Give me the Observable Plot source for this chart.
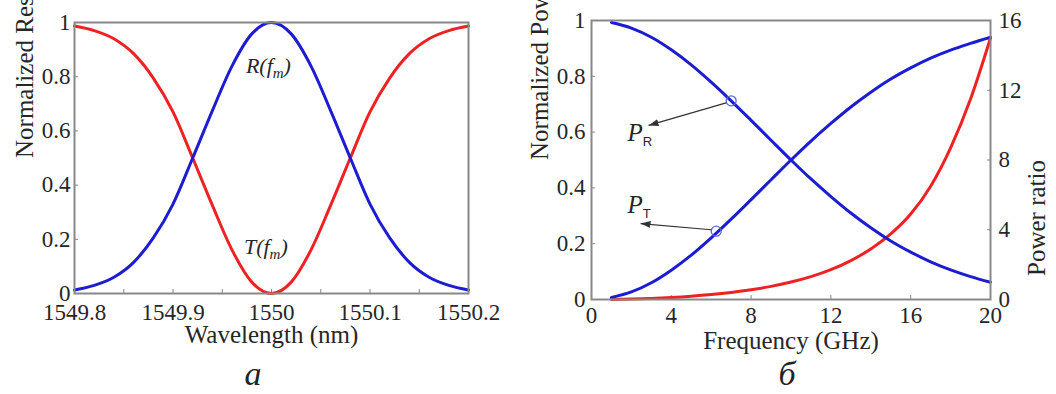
<!DOCTYPE html>
<html><head><meta charset="utf-8">
<script src="https://cdn.jsdelivr.net/npm/d3@7"></script>
<script src="https://cdn.jsdelivr.net/npm/@observablehq/plot@0.6"></script>
<style>
body{margin:0;background:#fff;font-family:"Liberation Serif",serif;}
#wrap{position:relative;width:1056px;height:394px;}
.panel{position:absolute;top:0;width:528px;height:394px;}
.cap{position:absolute;top:354px;width:60px;text-align:center;line-height:40px;font-family:"Liberation Serif",serif;font-style:italic;font-size:34px;color:#222;}
svg, svg text, svg tspan{font-family:"Liberation Serif",serif !important;}
</style></head><body>
<div id="wrap">
  <div class="panel" id="pa" style="left:0"></div>
  <div class="panel" id="pb" style="left:528px"></div>
</div>
<script>
// ---- Panel a data ----
const wavelength = [1549.80,1549.82,1549.84,1549.86,1549.88,1549.90,1549.92,1549.94,1549.96,1549.98,1550.00,
                    1550.02,1550.04,1550.06,1550.08,1550.10,1550.12,1550.14,1550.16,1550.18,1550.20];
const reflectR = [0.013,0.030,0.060,0.115,0.205,0.330,0.500,0.675,0.840,0.958,1.000,
                  0.958,0.840,0.675,0.500,0.330,0.205,0.115,0.060,0.030,0.013];
const transmitT = [0.987,0.970,0.940,0.885,0.795,0.670,0.500,0.325,0.160,0.042,0.000,
                   0.042,0.160,0.325,0.500,0.670,0.795,0.885,0.940,0.970,0.987];
const wlTicks = [1549.8,1549.9,1550,1550.1,1550.2];
const wlMinorTicks = [1549.85,1549.95,1550.05,1550.15];
const respTicks = [0,0.2,0.4,0.6,0.8,1];
const annotA = [
  {x:1549.974, y:0.84, label:"R(f_{m})"},
  {x:1549.972, y:0.17, label:"T(f_{m})"}
];

// ---- Panel b data ----
const freq = [1,2,3,4,5,6,7,8,9,10,11,12,13,14,15,16,17,18,19,20];
const powerR = [0.993,0.973,0.940,0.895,0.841,0.779,0.712,0.642,0.571,0.500,0.432,0.369,0.310,0.257,0.210,0.170,0.135,0.106,0.082,0.062];
const powerT = [0.007,0.027,0.060,0.105,0.159,0.221,0.288,0.358,0.429,0.500,0.568,0.631,0.690,0.743,0.790,0.830,0.865,0.894,0.918,0.940];
const powerRatio = [0.007,0.028,0.064,0.117,0.189,0.283,0.404,0.558,0.753,1.00,1.31,1.71,2.23,2.90,3.76,4.90,6.50,8.70,11.5,15.0];
const freqTicks = [0,4,8,12,16,20];
const powerTicks = [0,0.2,0.4,0.6,0.8,1];
const ratioTicks = [0,4,8,12,16];
const ratioMax = 16;
const circlesB = [{x:7.0, y:0.712},{x:6.25, y:0.245}];
const arrowsB = [
  {x1:6.75, y1:0.705, x2:2.86, y2:0.624},
  {x1:6.0, y1:0.250, x2:2.46, y2:0.272}
];
const annotB = [
  {x:1.8, y:0.595, label:"P_{R}"},
  {x:1.8, y:0.337, label:"P_{T}"}
];
const captions = ["a", "\u0431"];

const BLUE = "#1c1cd2", RED = "#ee2222", FRAME = "#888888", INK = "#262626";
const FONT = "Liberation Serif";

function subscripts(svg){
  const ns = "http://www.w3.org/2000/svg";
  svg.querySelectorAll("text").forEach(t => {
    const s = t.textContent;
    const m = s.match(/^(.*)_\{(.+?)\}(.*)$/);
    if (!m) return;
    const upright = s.startsWith("P");
    t.textContent = "";
    const a = document.createElementNS(ns, "tspan"); a.textContent = m[1]; t.appendChild(a);
    const b = document.createElementNS(ns, "tspan"); b.textContent = m[2];
    const shift = 5;
    b.setAttribute("font-size", upright ? "13px" : "15px");
    b.setAttribute("dy", shift + "px");
    if (upright) {
      b.setAttribute("font-style", "normal");
      b.style.setProperty("font-family", "'Liberation Sans', sans-serif", "important");
    }
    t.appendChild(b);
    if (m[3]) {
      const c = document.createElementNS(ns, "tspan"); c.textContent = m[3];
      c.setAttribute("dy", (-shift) + "px"); t.appendChild(c);
    }
  });
}
function fillMarkers(svg){
  svg.querySelectorAll("marker").forEach(mk => {
    mk.setAttribute("markerUnits", "userSpaceOnUse");
    mk.setAttribute("viewBox", "-10 -5 11 10");
    mk.setAttribute("markerWidth", 11);
    mk.setAttribute("markerHeight", 10);
    mk.setAttribute("fill", "#333");
    mk.setAttribute("stroke", "none");
    const p = mk.querySelector("path");
    if (p) p.setAttribute("d", "M-10,-3.5L0,0L-10,3.5Z");
  });
}
function addCaption(id, text, cx){
  const c = document.createElement("div");
  c.className = "cap";
  c.style.left = (cx - 30) + "px";
  c.textContent = text;
  document.getElementById(id).appendChild(c);
}

// ---- Panel a ----
const dataA = wavelength.map((w, i) => ({w, R: reflectR[i], T: transmitT[i]}));
const plotA = Plot.plot({
  width: 528, height: 360,
  marginLeft: 74, marginRight: 60, marginTop: 22, marginBottom: 67,
  style: {fontFamily: "Liberation Serif", fontSize: "23px"},
  x: {domain: [1549.8, 1550.2]},
  y: {domain: [0, 1]},
  marks: [
    Plot.axisX(wlMinorTicks.concat(wlTicks), {tickSize: -4, text: null, label: null, stroke: FRAME}),
    Plot.axisX(wlTicks, {tickSize: 0, tickPadding: 10, tickFormat: d => String(d), label: null, fontSize: 23, fontFamily: FONT, fill: INK}),
    Plot.axisY(respTicks, {tickSize: -4, tickPadding: 8, tickFormat: d => String(d), label: null, stroke: FRAME, fontSize: 23, fontFamily: FONT, fill: INK}),
    Plot.line(dataA, {x: "w", y: "T", stroke: RED, strokeWidth: 3, curve: "monotone-x"}),
    Plot.line(dataA, {x: "w", y: "R", stroke: BLUE, strokeWidth: 3, curve: "monotone-x"}),
    Plot.frame({stroke: FRAME, strokeWidth: 2}),
    Plot.text(annotA, {x: "x", y: "y", text: "label", textAnchor: "start", fontStyle: "italic", fontSize: 22, fill: INK, fontFamily: FONT}),
    Plot.text(["Normalized Response"], {text: d => d, frameAnchor: "left", dx: -50, rotate: -90, fontSize: 25, fill: INK, fontFamily: FONT}),
    Plot.text(["Wavelength (nm)"], {text: d => d, frameAnchor: "bottom", dy: 49, fontSize: 25, fill: INK, fontFamily: FONT})
  ]
});
subscripts(plotA);
document.getElementById("pa").appendChild(plotA);
addCaption("pa", captions[0], 253);

// ---- Panel b ----
const dataB = freq.map((f, i) => ({f, pr: powerR[i], pt: powerT[i], ratio: powerRatio[i]}));
const plotB = Plot.plot({
  width: 528, height: 360,
  marginLeft: 63, marginRight: 66, marginTop: 20, marginBottom: 61,
  style: {fontFamily: "Liberation Serif", fontSize: "23px"},
  x: {domain: [0, 20]},
  y: {domain: [0, 1]},
  marks: [
    Plot.axisX(freqTicks, {tickSize: -4, tickPadding: 11, tickFormat: d => String(d), label: null, stroke: FRAME, fontSize: 23, fontFamily: FONT, fill: INK}),
    Plot.axisY(powerTicks, {anchor: "left", tickSize: -4, tickPadding: 10, tickFormat: d => String(d), label: null, stroke: FRAME, fontSize: 23, fontFamily: FONT, fill: INK}),
    Plot.axisY(ratioTicks.map(t => t / ratioMax), {anchor: "right", tickSize: -4, tickPadding: 12, tickFormat: d => String(Math.round(d * ratioMax)), label: null, stroke: FRAME, fontSize: 23, fontFamily: FONT, fill: INK}),
    Plot.line(dataB, {x: "f", y: d => d.ratio / ratioMax, stroke: RED, strokeWidth: 3, curve: "monotone-x"}),
    Plot.line(dataB, {x: "f", y: "pr", stroke: BLUE, strokeWidth: 3, curve: "monotone-x"}),
    Plot.line(dataB, {x: "f", y: "pt", stroke: BLUE, strokeWidth: 3, curve: "monotone-x"}),
    Plot.frame({stroke: FRAME, strokeWidth: 2}),
    Plot.dot(circlesB, {x: "x", y: "y", r: 5, stroke: "#5a6ac8", strokeWidth: 1.3, fill: "none"}),
    Plot.link(arrowsB, {x1: "x1", y1: "y1", x2: "x2", y2: "y2", stroke: "#333", strokeWidth: 1.2, markerEnd: "arrow"}),
    Plot.text(annotB, {x: "x", y: "y", text: "label", textAnchor: "start", fontStyle: "italic", fontSize: 25, fill: INK, fontFamily: FONT}),
    Plot.text(["Normalized Power"], {text: d => d, frameAnchor: "left", dx: -52, rotate: -90, fontSize: 25, fill: INK, fontFamily: FONT}),
    Plot.text(["Power ratio"], {text: d => d, frameAnchor: "right", dx: 46, rotate: -90, fontSize: 25, fill: INK, fontFamily: FONT}),
    Plot.text(["Frequency (GHz)"], {text: d => d, frameAnchor: "bottom", dy: 49, fontSize: 25, fill: INK, fontFamily: FONT})
  ]
});
subscripts(plotB);
fillMarkers(plotB);
document.getElementById("pb").appendChild(plotB);
addCaption("pb", captions[1], 259);
</script>
</body></html>
